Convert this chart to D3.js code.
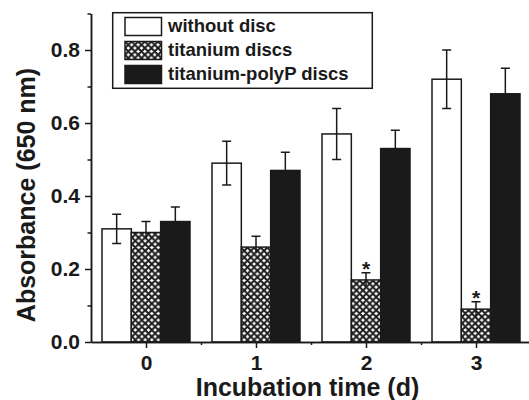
<!DOCTYPE html>
<html>
<head>
<meta charset="utf-8">
<script src="https://cdn.jsdelivr.net/npm/d3@7"></script>
<style>
  body { margin: 0; background: #fff; }
  svg { display: block; font-family: "Liberation Sans", Arial, sans-serif; font-weight: bold; }
</style>
</head>
<body>
<svg id="chart" width="529" height="400"></svg>
<script>
// values
const days = ["0", "1", "2", "3"];
const series = ["without disc", "titanium discs", "titanium-polyP discs"];
const withoutDisc = [0.31, 0.49, 0.57, 0.72];
const withoutDiscErr = [0.04, 0.06, 0.07, 0.08];
const titanium = [0.30, 0.26, 0.17, 0.09];
const titaniumErr = [0.03, 0.03, 0.02, 0.02];
const polyP = [0.33, 0.47, 0.53, 0.68];
const polyPErr = [0.04, 0.05, 0.05, 0.07];
const significant = [false, false, true, true]; // stars over titanium bars
const yTicks = [0, 0.2, 0.4, 0.6, 0.8];

const ink = "#1a1a1a";
const svg = d3.select("#chart");

// crosshatch fill for the titanium bars
const P = 6.6;
const pat = svg.append("defs").append("pattern")
    .attr("id", "hatch")
    .attr("patternUnits", "userSpaceOnUse")
    .attr("width", P).attr("height", P);
pat.append("rect").attr("width", P).attr("height", P).attr("fill", "#fff");
pat.append("path")
    .attr("d", `M0,0L${P},${P}M${P},0L0,${P}M-1,${P - 1}L1,${P + 1}M${P - 1},-1L${P + 1},1M-1,1L1,-1M${P - 1},${P + 1}L${P + 1},${P - 1}`)
    .attr("stroke", ink).attr("stroke-width", 2);

const fills = ["#fff", "url(#hatch)", ink];

const x = d3.scaleLinear().domain([-0.5, 3.5]).range([91, 531]);
const y = d3.scaleLinear().domain([0, 0.9]).range([342, 13.5]);
const sub = d3.scaleBand().domain(series).range([-0.4, 0.4]);
const barW = x(sub.bandwidth()) - x(0);

const bars = days.flatMap((d, i) => [
    { s: 0, v: withoutDisc[i], e: withoutDiscErr[i], star: false },
    { s: 1, v: titanium[i], e: titaniumErr[i], star: significant[i] },
    { s: 2, v: polyP[i], e: polyPErr[i], star: false }
].map(b => Object.assign(b, { cx: x(i + sub(series[b.s]) + sub.bandwidth() / 2) })));

svg.append("g").selectAll("rect").data(bars).join("rect")
    .attr("x", b => b.cx - barW / 2)
    .attr("y", b => y(b.v))
    .attr("width", barW)
    .attr("height", b => y(0) - y(b.v))
    .attr("fill", b => fills[b.s])
    .attr("stroke", ink)
    .attr("stroke-width", 1.5);

// error bars: full whisker inside white bars, upper half only elsewhere
svg.append("g").attr("stroke", ink).attr("stroke-width", 1.5).attr("fill", "none")
    .selectAll("path").data(bars).join("path")
    .attr("d", b => {
        const top = y(b.v + b.e), bot = y(b.v - b.e);
        let d = `M${b.cx - 4.5},${top}H${b.cx + 4.5}M${b.cx},${top}`;
        if (b.s === 0) d += `V${bot}M${b.cx - 4.5},${bot}H${b.cx + 4.5}`;
        else d += `V${y(b.v) + (b.s === 1 ? 6 : 0)}`;
        return d;
    });

svg.append("g").selectAll("text").data(bars.filter(b => b.star)).join("text")
    .attr("x", b => b.cx)
    .attr("y", b => y(b.v + b.e) + 3)
    .attr("text-anchor", "middle")
    .attr("font-size", 21)
    .attr("fill", ink)
    .text("*");

// axes
function styleAxis(g) {
    g.selectAll("path, line").attr("stroke", ink).attr("stroke-width", 1.5);
    g.selectAll("text").attr("fill", ink).attr("font-family", null).attr("font-size", 21);
}

svg.append("g")
    .attr("transform", `translate(0,${y(0)})`)
    .call(d3.axisBottom(x).tickValues([0.5, 1.5, 2.5]).tickSize(3).tickSizeOuter(0).tickFormat(""))
    .call(styleAxis);
svg.append("g")
    .attr("transform", `translate(0,${y(0)})`)
    .call(d3.axisBottom(x).tickValues(days.map((d, i) => i)).tickSize(6).tickSizeOuter(0)
        .tickPadding(7).tickFormat(i => days[i]))
    .call(styleAxis);

svg.append("g")
    .attr("transform", `translate(${x(-0.5)},0)`)
    .call(d3.axisLeft(y).tickValues([0.1, 0.3, 0.5, 0.7, 0.9]).tickSize(3.5).tickSizeOuter(0).tickFormat(""))
    .call(styleAxis);
svg.append("g")
    .attr("transform", `translate(${x(-0.5)},0)`)
    .call(d3.axisLeft(y).tickValues(yTicks).tickSize(6).tickSizeOuter(0).tickPadding(5)
        .tickFormat(d3.format(".1f")))
    .call(styleAxis);

svg.append("text")
    .attr("transform", "translate(35,195) rotate(-90)")
    .attr("text-anchor", "middle")
    .attr("font-size", 25)
    .attr("fill", ink)
    .text("Absorbance (650 nm)");

svg.append("text")
    .attr("x", 307.5)
    .attr("y", 396)
    .attr("text-anchor", "middle")
    .attr("font-size", 25)
    .attr("fill", ink)
    .text("Incubation time (d)");

// legend
const leg = svg.append("g");
leg.append("rect")
    .attr("x", 112.7).attr("y", 12.7)
    .attr("width", 259.6).attr("height", 75.6)
    .attr("fill", "#fff").attr("stroke", ink).attr("stroke-width", 1.5);
const item = leg.selectAll("g").data(series).join("g")
    .attr("transform", (d, i) => `translate(125,${17.5 + i * 24})`);
item.append("rect")
    .attr("width", 36.5).attr("height", 18)
    .attr("fill", (d, i) => fills[i])
    .attr("stroke", ink).attr("stroke-width", 1.5);
item.append("text")
    .attr("x", 43).attr("y", 14.5)
    .attr("font-size", 18.5)
    .attr("fill", ink)
    .text(d => d);
</script>
</body>
</html>
